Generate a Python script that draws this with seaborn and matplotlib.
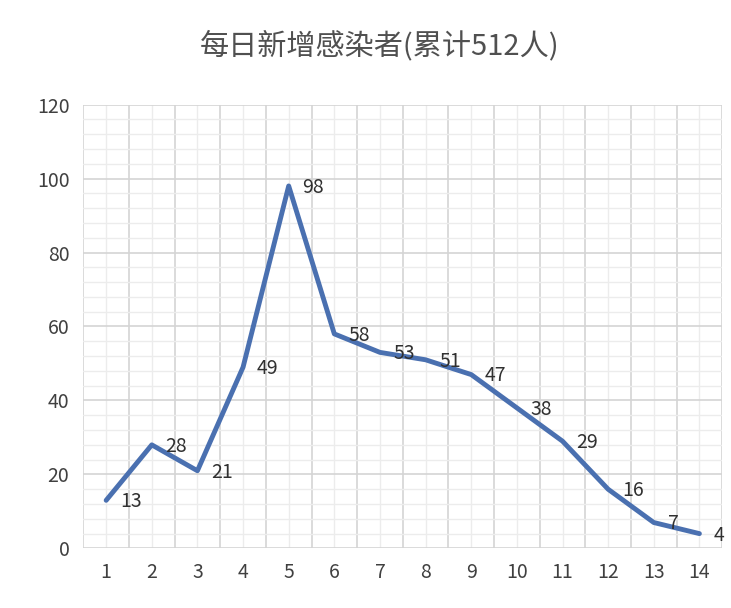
import matplotlib
matplotlib.use("Agg")
import matplotlib.pyplot as plt
import seaborn as sns
import numpy as np
from matplotlib.ticker import MultipleLocator

days = list(range(1, 15))
values = [13, 28, 21, 49, 98, 58, 53, 51, 47, 38, 29, 16, 7, 4]
title = "每日新增感染者(累计512人)"

sns.set_style("white")
plt.rcParams['font.family'] = ['Noto Sans CJK SC', 'DejaVu Sans']

fig = plt.figure(figsize=(7.31, 6.08), dpi=100)
ax = fig.add_axes([0.114, 0.098, 0.874, 0.73])
sns.lineplot(x=days, y=values, ax=ax, color="#4a70b0", linewidth=3.5)
ax.set_xlim(0.5, 14.5)
ax.set_ylim(0, 120)
ax.yaxis.set_major_locator(MultipleLocator(20))
ax.yaxis.set_minor_locator(MultipleLocator(4))
ax.set_xticks(days)
ax.grid(which="minor", axis="y", color="#ececec", lw=1)
ax.grid(which="major", axis="y", color="#d4d4d4", lw=1.2)
for xv in np.arange(0.5, 15, 1):
    ax.axvline(xv, color="#d4d4d4", lw=1.2, zorder=0)
for xv in days:
    ax.axvline(xv, color="#ececec", lw=1, zorder=0)
ax.tick_params(which="both", length=0, labelsize=14, colors="#404040", pad=10)
for s in ax.spines.values():
    s.set_visible(False)
for x, v in zip(days, values):
    ax.annotate(str(v), (x, v), xytext=(10, -1), textcoords="offset points",
                fontsize=14, color="#303030", va="center", ha="left")
fig.text(0.52, 0.925, title, ha="center", va="center", fontsize=21, color="#505050")
fig.savefig("out.png", dpi=100)
